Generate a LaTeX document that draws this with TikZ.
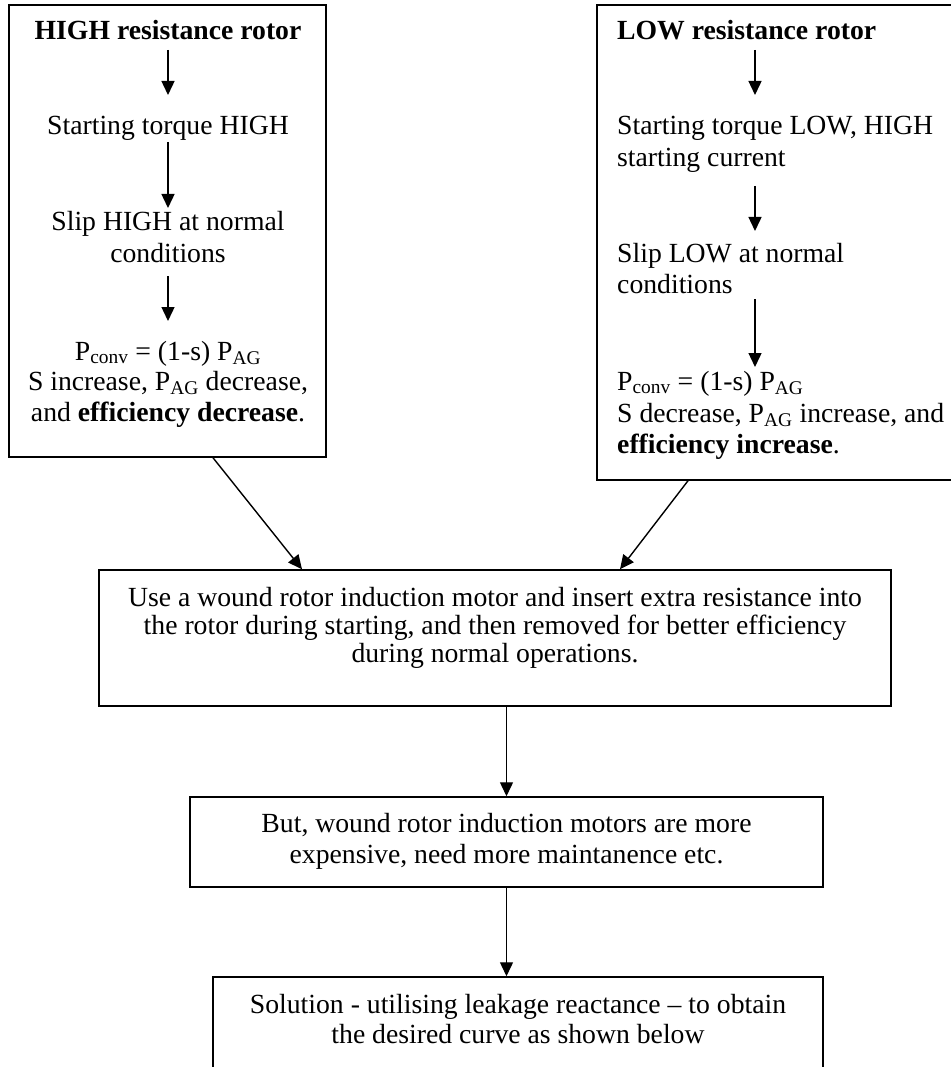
\documentclass[tikz,border=0pt]{standalone}
\usepackage{fontspec}
\setmainfont{Liberation Serif}
\usetikzlibrary{arrows.meta,calc}
\tikzset{
  box/.style={draw, line width=1.5pt, inner sep=0pt, rectangle},
  txt/.style={inner sep=0pt, anchor=base},
  txtl/.style={inner sep=0pt, anchor=base west},
  arr/.style={line width=1.4pt, -{Triangle[length=14pt,width=13pt]}}
}
\begin{document}
\begin{tikzpicture}[x=1pt,y=-1pt,font=\fontsize{27.7pt}{32pt}\selectfont]
\useasboundingbox (0,0) rectangle (950,1067);
% boxes
\node[box, minimum width=317pt, minimum height=452pt] (L) at (167.5,231) {};
\node[box, minimum width=355pt, minimum height=475pt] (R) at (774.5,242.5) {};
\node[box, minimum width=792pt, minimum height=136pt] (M) at (495,638) {};
\node[box, minimum width=633pt, minimum height=90pt] (B2) at (506.5,842) {};
\node[box, minimum width=610pt, minimum height=98pt] (B3) at (518,1026) {};
% left box text
\node[txt] (l1) at (168,40) {\textbf{HIGH resistance rotor}};
\node[txt] (l2) at (168,135) {Starting torque HIGH};
\node[txt] (l3) at (168,230) {Slip HIGH at normal};
\node[txt] (l4) at (168,262) {conditions};
\node[txt] (l5) at (168,360) {P\textsubscript{conv} = (1-s) P\textsubscript{AG}};
\node[txt] (l6) at (168,390) {S increase, P\textsubscript{AG} decrease,};
\node[txt] (l7) at (168,421) {and \textbf{efficiency decrease}.};
% right box text
\node[txtl] (r1) at (617,40) {\textbf{LOW resistance rotor}};
\node[txtl] (r2) at (617,135) {Starting torque LOW, HIGH};
\node[txtl] (r3) at (617,167) {starting current};
\node[txtl] (r4) at (617,262) {Slip LOW at normal};
\node[txtl] (r5) at (617,293) {conditions};
\node[txtl] (r6) at (617,390) {P\textsubscript{conv} = (1-s) P\textsubscript{AG}};
\node[txtl] (r7) at (617,422) {S decrease, P\textsubscript{AG} increase, and};
\node[txtl] (r8) at (617,453) {\textbf{efficiency increase}.};
% middle box text
\node[txt] (m1) at (495,606) {Use a wound rotor induction motor and insert extra resistance into};
\node[txt] (m2) at (495,634) {the rotor during starting, and then removed for better efficiency};
\node[txt] (m3) at (495,662) {during normal operations.};
% box 2 text
\node[txt] (b21) at (506.5,832) {But, wound rotor induction motors are more};
\node[txt] (b22) at (506.5,863) {expensive, need more maintanence etc.};
% box 3 text
\node[txt] (b31) at (518,1013) {Solution - utilising leakage reactance – to obtain};
\node[txt] (b32) at (518,1043) {the desired curve as shown below};
% arrow end points inside boxes
\coordinate (la1) at (168,50);  \coordinate (la2) at (168,95);
\coordinate (lb1) at (168,142); \coordinate (lb2) at (168,208);
\coordinate (lc1) at (168,276); \coordinate (lc2) at (168,321);
\coordinate (ra1) at (755,50);  \coordinate (ra2) at (755,95);
\coordinate (rb1) at (755,186); \coordinate (rb2) at (755,231);
\coordinate (rc1) at (755,299); \coordinate (rc2) at (755,367);
\draw[arr] (la1) -- (la2);
\draw[arr] (lb1) -- (lb2);
\draw[arr] (lc1) -- (lc2);
\draw[arr] (ra1) -- (ra2);
\draw[arr] (rb1) -- (rb2);
\draw[arr] (rc1) -- (rc2);
% between boxes
\coordinate (Lout) at (L.south west -| 213,0);
\coordinate (Min1) at (M.north west -| 302,0);
\coordinate (Rout) at (R.south west -| 688,0);
\coordinate (Min2) at (M.north west -| 620,0);
\draw[arr] (Lout) -- (Min1);
\draw[arr] (Rout) -- (Min2);
\draw[arr] (B2.north |- M.south) -- (B2.north);
\draw[arr] (B2.south) -- (B2.south |- B3.north);
\end{tikzpicture}
\end{document}
